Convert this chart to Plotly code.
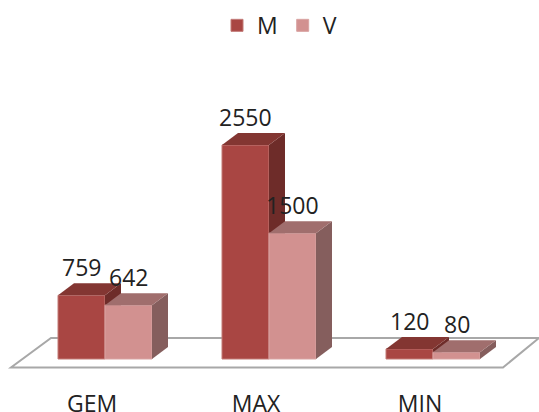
import plotly.graph_objects as go

categories = ["GEM", "MAX", "MIN"]
series_m = [759, 2550, 120]
series_v = [642, 1500, 80]

W, H = 539, 412
PLOT_B = 388          # pixel row of the plot bottom
BASE_Y = 359          # pixel row of value 0
PX_PER_VAL = 0.0839   # pixels per unit of value
CENTER0 = 105         # pixel column of the first category centre
STEP = 164            # pixels per category
BAR_W = 47 / STEP
DX = 16 / STEP
DY = 12 / PX_PER_VAL
xr = [-CENTER0 / STEP, (W - CENTER0) / STEP]
yr = [-(PLOT_B - BASE_Y) / PX_PER_VAL, BASE_Y / PX_PER_VAL]


def X(p):
    return (p - CENTER0) / STEP


def Y(p):
    return (BASE_Y - p) / PX_PER_VAL


xs = list(range(len(categories)))
fig = go.Figure()


def series(name, vals, offset, front, line, top, side, xa, ya):
    fig.add_trace(go.Bar(x=xs, y=vals, name=name, width=BAR_W, offset=offset,
                         marker=dict(color=front, line=dict(color=line, width=1)),
                         xaxis=xa, yaxis=ya, hoverinfo="skip"))
    for i, v in zip(xs, vals):
        l, r = i + offset, i + offset + BAR_W
        fig.add_trace(go.Scatter(x=[r, r + DX, r + DX, r, r], y=[0, DY, v + DY, v, 0],
                                 fill="toself", fillcolor=side, mode="none",
                                 showlegend=False, hoverinfo="skip", xaxis=xa, yaxis=ya))
        fig.add_trace(go.Scatter(x=[l, r, r + DX, l + DX, l], y=[v, v, v + DY, v + DY, v],
                                 fill="toself", fillcolor=top, mode="none",
                                 showlegend=False, hoverinfo="skip", xaxis=xa, yaxis=ya))


series("M", series_m, -BAR_W, "#A94643", "#C27A77", "#833632", "#6E2C29", "x", "y")
series("V", series_v, 0, "#D29190", "#D9A3A2", "#A06E6D", "#855E5D", "x2", "y2")

fig.add_shape(type="path", xref="x", yref="y", layer="below",
              path=f"M {X(11)} {Y(367.5)} L {X(503)} {Y(367.5)} L {X(539)} {Y(338)} "
                   f"L {X(51)} {Y(338)} Z",
              line=dict(color="#A8A8A8", width=2), fillcolor="white")

FONT = "Open Sans"
SIZE = 23
for i, v in zip(xs, series_m):
    fig.add_annotation(x=i - BAR_W / 2, y=v, xref="x", yref="y", text=str(v), showarrow=False,
                       yanchor="middle", yshift=28, font=dict(family=FONT, size=SIZE, color="#222"))
for i, v in zip(xs, series_v):
    fig.add_annotation(x=i + BAR_W / 2, y=v, xref="x", yref="y", text=str(v), showarrow=False,
                       yanchor="middle", yshift=28, font=dict(family=FONT, size=SIZE, color="#222"))

fig.update_layout(
    width=W, height=H, margin=dict(l=0, r=0, t=0, b=H - PLOT_B, autoexpand=False),
    paper_bgcolor="white", plot_bgcolor="white",
    barmode="overlay",
    showlegend=True,
    legend=dict(orientation="h", x=0.5 + 10 / W, xanchor="center", y=0.99, yanchor="top",
                font=dict(family=FONT, size=SIZE, color="#222"), bgcolor="rgba(0,0,0,0)",
                traceorder="normal"),
    xaxis=dict(range=xr, tickmode="array", tickvals=[i - 13 / STEP for i in xs], ticktext=categories,
               showgrid=False, zeroline=False, showline=False, ticks="", ticklen=0,
               automargin=False,
               tickfont=dict(family=FONT, size=SIZE, color="#222")),
    yaxis=dict(range=yr, visible=False, showgrid=False, zeroline=False),
    xaxis2=dict(range=xr, overlaying="x", visible=False, showgrid=False, zeroline=False),
    yaxis2=dict(range=yr, overlaying="y", visible=False, showgrid=False, zeroline=False),
)
fig.write_html("out.html", config={"displayModeBar": False},
               post_script="document.body.style.margin='0';document.documentElement.style.overflow='hidden';")
